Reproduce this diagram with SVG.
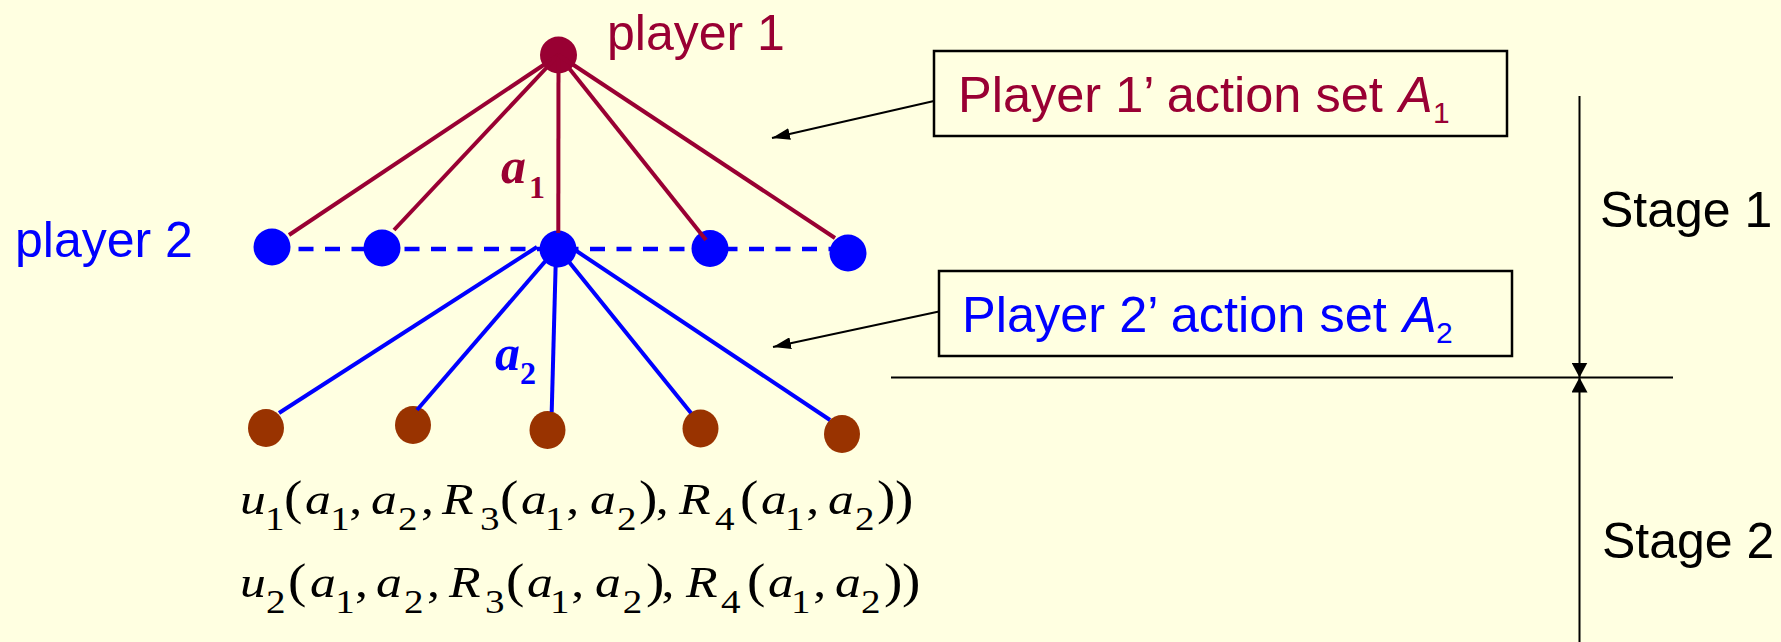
<svg xmlns="http://www.w3.org/2000/svg" width="1781" height="642" viewBox="0 0 1781 642">
<defs>
<style>
.bg{fill:#FFFFE1}
.sans{font-family:"Liberation Sans",Arial,sans-serif}
.serif{font-family:"Liberation Serif","Times New Roman",serif}
.red{fill:#990033}
.blue{fill:#0000FF}
.brown{fill:#993300}
.blk{fill:#000}
.redline{stroke:#990033;stroke-width:4;fill:none}
.blueline{stroke:#0000FF;stroke-width:4;fill:none}
.dash{stroke:#0000FF;stroke-width:4.5;stroke-dasharray:15 11.5;fill:none}
.thin{stroke:#000;stroke-width:2;fill:none}
.box{fill:none;stroke:#000;stroke-width:2.5}
.it{font-style:italic}
.f{font-size:45px}
.p{font-size:48px}
.s{font-size:34px}
</style>
<marker id="ah" markerUnits="userSpaceOnUse" markerWidth="18" markerHeight="12" refX="18" refY="6" orient="auto">
<path d="M0,0 L18,6 L0,12 z" fill="#000"/>
</marker>
<marker id="dim" markerUnits="userSpaceOnUse" markerWidth="15" markerHeight="16" refX="15" refY="8" orient="auto">
<path d="M0,0 L15,8 L0,16 z" fill="#000"/>
</marker>
</defs>
<rect class="bg" x="0" y="0" width="1781" height="642"/>

<g id="nodes">
<g id="p1"><circle class="red" cx="558.5" cy="55" r="18.5"/></g>
<g id="n1"><circle class="blue" cx="272" cy="247" r="18.5"/></g>
<g id="n2"><circle class="blue" cx="382" cy="248" r="18.5"/></g>
<g id="n3"><circle class="blue" cx="558" cy="249" r="18.5"/></g>
<g id="n4"><circle class="blue" cx="710" cy="248.5" r="18.5"/></g>
<g id="n5"><circle class="blue" cx="848" cy="253" r="18.5"/></g>
<g id="l1"><ellipse class="brown" cx="266" cy="428" rx="18" ry="19"/></g>
<g id="l2"><ellipse class="brown" cx="413" cy="425" rx="18" ry="19"/></g>
<g id="l3"><ellipse class="brown" cx="547.5" cy="430" rx="18" ry="19"/></g>
<g id="l4"><ellipse class="brown" cx="700.5" cy="428.5" rx="18" ry="19"/></g>
<g id="l5"><ellipse class="brown" cx="842" cy="434" rx="18" ry="19"/></g>
</g>

<g id="connectors">
<line class="dash" x1="272" y1="249" x2="848" y2="249"/>
<line class="redline" x1="558.5" y1="55" x2="289" y2="235"/>
<line class="redline" x1="558.5" y1="55" x2="394" y2="230"/>
<line class="redline" x1="558.5" y1="55" x2="558.3" y2="233"/>
<line class="redline" x1="558.5" y1="55" x2="706" y2="240"/>
<line class="redline" x1="558.5" y1="55" x2="835" y2="238"/>
<line class="blueline" x1="537" y1="247" x2="279" y2="413"/>
<line class="blueline" x1="555" y1="250" x2="417" y2="410"/>
<line class="blueline" x1="556" y1="252" x2="551.7" y2="412"/>
<line class="blueline" x1="561" y1="252" x2="691" y2="413"/>
<line class="blueline" x1="575" y1="250" x2="830" y2="420"/>
<line class="thin" x1="934" y1="101" x2="772" y2="138" marker-end="url(#ah)"/>
<line class="thin" x1="939" y1="311.5" x2="773" y2="347" marker-end="url(#ah)"/>
<line class="thin" x1="891" y1="377.5" x2="1673" y2="377.5"/>
<line class="thin" x1="1579.5" y1="96" x2="1579.5" y2="377.5" marker-end="url(#dim)"/>
<line class="thin" x1="1579.5" y1="642" x2="1579.5" y2="377.5" marker-end="url(#dim)"/>
</g>

<g id="labels">
<text class="sans red" x="607" y="50" font-size="50">player 1</text>
<text class="sans blue" x="15" y="257" font-size="50">player 2</text>
<text class="serif red" font-weight="bold"><tspan class="it" x="501" y="183" font-size="50">a</tspan><tspan x="529" y="198" font-size="32">1</tspan></text>
<text class="serif blue" font-weight="bold"><tspan class="it" x="495" y="370" font-size="50">a</tspan><tspan x="520" y="384" font-size="32">2</tspan></text>
<text class="sans blk" x="1600" y="227" font-size="50">Stage 1</text>
<text class="sans blk" x="1602" y="558" font-size="50">Stage 2</text>
</g>

<g id="box1">
<rect class="box" x="934" y="51" width="573" height="85"/>
<text class="sans red" font-size="50.5"><tspan x="958" y="112">Player 1’ action set </tspan><tspan class="it" x="1399" y="112">A</tspan><tspan x="1433" y="123" font-size="30">1</tspan></text>
</g>
<g id="box2">
<rect class="box" x="939" y="271" width="573" height="85"/>
<text class="sans blue" font-size="50.5"><tspan x="962" y="332">Player 2’ action set </tspan><tspan class="it" x="1403" y="332">A</tspan><tspan x="1436" y="343" font-size="30">2</tspan></text>
</g>

<g id="formula1" class="serif blk" transform="translate(240,0) scale(1.15,1) translate(-240,0)">
<text y="514"><tspan class="it f" x="240" y="514">u</tspan><tspan class="s" x="261.7" y="530">1</tspan><tspan class="p" x="278.3" y="514">(</tspan><tspan class="it f" x="296.5" y="514">a</tspan><tspan class="s" x="318.5" y="530">1</tspan><tspan class="f" x="335" y="514">,</tspan><tspan class="it f" x="353.9" y="514">a</tspan><tspan class="s" x="377.4" y="530">2</tspan><tspan class="f" x="397.5" y="514">,</tspan><tspan class="it f" x="415.7" y="514">R</tspan><tspan class="s" x="448.7" y="530">3</tspan><tspan class="p" x="466.1" y="514">(</tspan><tspan class="it f" x="484.3" y="514">a</tspan><tspan class="s" x="505.2" y="530">1</tspan><tspan class="f" x="523.7" y="514">,</tspan><tspan class="it f" x="544.3" y="514">a</tspan><tspan class="s" x="567.8" y="530">2</tspan><tspan class="p" x="587" y="514">)</tspan><tspan class="f" x="601.5" y="514">,</tspan><tspan class="it f" x="621.7" y="514">R</tspan><tspan class="s" x="653" y="530">4</tspan><tspan class="p" x="674.8" y="514">(</tspan><tspan class="it f" x="693" y="514">a</tspan><tspan class="s" x="713.9" y="530">1</tspan><tspan class="f" x="732.4" y="514">,</tspan><tspan class="it f" x="751.3" y="514">a</tspan><tspan class="s" x="774.8" y="530">2</tspan><tspan class="p" x="793.9" y="514">)</tspan><tspan class="p" x="809.6" y="514">)</tspan></text>
</g>
<g id="formula2" class="serif blk" transform="translate(240,0) scale(1.15,1) translate(-240,0)">
<text y="597"><tspan class="it f" x="240" y="597">u</tspan><tspan class="s" x="262.6" y="613">2</tspan><tspan class="p" x="281.7" y="597">(</tspan><tspan class="it f" x="300.9" y="597">a</tspan><tspan class="s" x="322.8" y="613">1</tspan><tspan class="f" x="340" y="597">,</tspan><tspan class="it f" x="358.3" y="597">a</tspan><tspan class="s" x="382.6" y="613">2</tspan><tspan class="f" x="402.7" y="597">,</tspan><tspan class="it f" x="421.7" y="597">R</tspan><tspan class="s" x="453" y="613">3</tspan><tspan class="p" x="471.3" y="597">(</tspan><tspan class="it f" x="489.6" y="597">a</tspan><tspan class="s" x="509.6" y="613">1</tspan><tspan class="f" x="528.1" y="597">,</tspan><tspan class="it f" x="548.7" y="597">a</tspan><tspan class="s" x="572.9" y="613">2</tspan><tspan class="p" x="593" y="597">)</tspan><tspan class="f" x="606.6" y="597">,</tspan><tspan class="it f" x="627.8" y="597">R</tspan><tspan class="s" x="658.3" y="613">4</tspan><tspan class="p" x="680.9" y="597">(</tspan><tspan class="it f" x="699.1" y="597">a</tspan><tspan class="s" x="719.1" y="613">1</tspan><tspan class="f" x="738.5" y="597">,</tspan><tspan class="it f" x="757.4" y="597">a</tspan><tspan class="s" x="780" y="613">2</tspan><tspan class="p" x="800" y="597">)</tspan><tspan class="p" x="815.7" y="597">)</tspan></text>
</g>
</svg>
